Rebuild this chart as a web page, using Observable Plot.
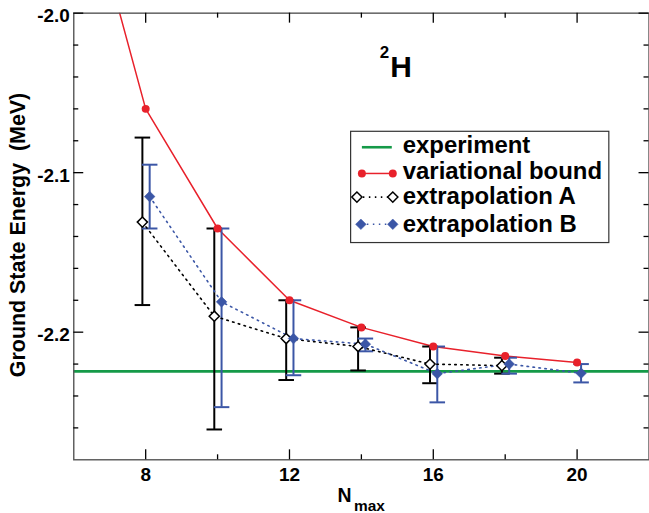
<!DOCTYPE html>
<html><head><meta charset="utf-8">
<script src="https://cdn.jsdelivr.net/npm/d3@7"></script>
<script src="https://cdn.jsdelivr.net/npm/@observablehq/plot@0.6"></script>
<style>
html,body{margin:0;padding:0;background:#fff;overflow:hidden;}
#chart{width:649px;height:513px;overflow:hidden;}
</style>
</head><body><div id="chart"></div>
<script>
// ---- data ----
const N_var = [6, 8, 10, 12, 14, 16, 18, 20];
const E_var = [-1.894, -2.060, -2.135, -2.180, -2.197, -2.209, -2.215, -2.219];

const N_A  = [8, 10, 12, 14, 16, 18];
const E_A  = [-2.131, -2.190, -2.204, -2.209, -2.220, -2.221];
const lo_A = [-2.183, -2.261, -2.230, -2.224, -2.232, -2.226];
const hi_A = [-2.078, -2.135, -2.180, -2.197, -2.209, -2.216];

const N_B  = [8, 10, 12, 14, 16, 18, 20];
const E_B  = [-2.115, -2.181, -2.204, -2.2075, -2.226, -2.220, -2.2257];
const lo_B = [-2.135, -2.247, -2.227, -2.212, -2.244, -2.226, -2.2315];
const hi_B = [-2.095, -2.135, -2.180, -2.204, -2.209, -2.216, -2.220];

const E_exp = -2.2246;

const xMajor = [8, 12, 16, 20];
const xMinor = [10, 14, 18];
const yMajor = [-2.0, -2.1, -2.2];
const yMinor = [-2.02, -2.04, -2.06, -2.08, -2.12, -2.14, -2.16, -2.18, -2.22, -2.24, -2.26];

const legendLabels = ["experiment", "variational bound", "extrapolation A", "extrapolation B"];

// ---- build tables ----
const V = N_var.map((n, i) => ({N: n, E: E_var[i]}));
const A = N_A.map((n, i) => ({N: n, E: E_A[i], lo: lo_A[i], hi: hi_A[i]}));
const B = N_B.map((n, i) => ({N: n, E: E_B[i], lo: lo_B[i], hi: hi_B[i]}));

// ---- style ----
const red = "#e8212b", blue = "#3b56a6", green = "#159a48";
const font = "Liberation Sans, Arial, Helvetica, sans-serif";
const W = 651, H = 513, mL = 73.5, mR = 0.5, mT = 12.7, mB = 52.3;
const iW = W - mL - mR, iH = H - mT - mB;
const dxA = -3.3, dxB = 4;
const dots = "1.5,4.5";
const cap = {draw(ctx, size) { const r = Math.sqrt(size / Math.PI); ctx.moveTo(-r, 0); ctx.lineTo(r, 0); }};

const tickOpts = {stroke: "black", strokeWidth: 1.3};

const chart = Plot.plot({
  width: W, height: H,
  marginLeft: mL, marginRight: mR, marginTop: mT, marginBottom: mB,
  style: {fontFamily: font, background: "white", color: "black", overflow: "visible"},
  x: {domain: [6, 22]},
  y: {domain: [-2.28, -2.0]},
  marks: [
    Plot.ruleY([E_exp], {stroke: green, strokeWidth: 2.6}),
    Plot.line(V, {x: "N", y: "E", stroke: red, strokeWidth: 1.5, clip: true}),
    // error bars A
    Plot.ruleX(A, {x: "N", y1: "lo", y2: "hi", dx: dxA, stroke: "black", strokeWidth: 2}),
    Plot.dot(A, {x: "N", y: "lo", dx: dxA, symbol: cap, r: 7.8, stroke: "black", strokeWidth: 2, fill: "none"}),
    Plot.dot(A, {x: "N", y: "hi", dx: dxA, symbol: cap, r: 7.8, stroke: "black", strokeWidth: 2, fill: "none"}),
    // error bars B
    Plot.ruleX(B, {x: "N", y1: "lo", y2: "hi", dx: dxB, stroke: blue, strokeWidth: 2}),
    Plot.dot(B, {x: "N", y: "lo", dx: dxB, symbol: cap, r: 7.8, stroke: blue, strokeWidth: 2, fill: "none"}),
    Plot.dot(B, {x: "N", y: "hi", dx: dxB, symbol: cap, r: 7.8, stroke: blue, strokeWidth: 2, fill: "none"}),
    // dotted connecting lines
    Plot.line(A, {x: "N", y: "E", dx: dxA, stroke: "black", strokeWidth: 1.6, strokeDasharray: dots}),
    Plot.line(B, {x: "N", y: "E", dx: dxB, stroke: blue, strokeWidth: 1.6, strokeDasharray: dots}),
    // markers
    Plot.dot(A, {x: "N", y: "E", dx: dxA, symbol: "diamond2", r: 4.6, fill: "white", stroke: "black", strokeWidth: 1.5}),
    Plot.dot(B, {x: "N", y: "E", dx: dxB, symbol: "diamond2", r: 4.8, fill: blue, stroke: blue, strokeWidth: 0.5}),
    Plot.dot(V, {x: "N", y: "E", r: 4, fill: red, clip: true}),
    // frame
    Plot.frame({stroke: "#555", strokeWidth: 1.4}),
    // inward ticks
    Plot.tickX(xMajor, {x: d => d, insetTop: iH - 10, ...tickOpts}),
    Plot.tickX(xMajor, {x: d => d, insetBottom: iH - 10, ...tickOpts}),
    Plot.tickX(xMinor, {x: d => d, insetTop: iH - 5, ...tickOpts}),
    Plot.tickX(xMinor, {x: d => d, insetBottom: iH - 5, ...tickOpts}),
    Plot.tickY(yMajor, {y: d => d, insetRight: iW - 10, ...tickOpts}),
    Plot.tickY(yMajor, {y: d => d, insetLeft: iW - 10, ...tickOpts}),
    Plot.tickY(yMinor, {y: d => d, insetRight: iW - 5, ...tickOpts}),
    Plot.tickY(yMinor, {y: d => d, insetLeft: iW - 5, ...tickOpts}),
    // tick labels
    Plot.axisX(xMajor, {tickSize: 0, tickPadding: 7.5, fontSize: 19, fontWeight: "bold", fontFamily: font, label: null}),
    Plot.axisY(yMajor, {tickSize: 0, tickPadding: 4, fontSize: 19, fontWeight: "bold", fontFamily: font, label: null, dy: 3, tickFormat: d => d.toFixed(1)}),
    // axis titles
    Plot.text(["Ground State Energy  (MeV)"], {frameAnchor: "left", rotate: -90, textAnchor: "middle", lineAnchor: "bottom", dx: 24.5 - mL, dy: -1.5, fontSize: 21.5, fontWeight: "bold", fontFamily: font, fill: "black"}),
    Plot.text(["N"], {frameAnchor: "bottom", textAnchor: "start", lineAnchor: "bottom", dx: -24, dy: 42.5, fontSize: 19.5, fontWeight: "bold", fontFamily: font, fill: "black"}),
    Plot.text(["max"], {frameAnchor: "bottom", textAnchor: "start", lineAnchor: "bottom", dx: -7.5, dy: 51.5, fontSize: 15.5, fontWeight: "bold", fontFamily: font, fill: "black"}),
    // nucleus label
    Plot.text(["2"], {frameAnchor: "top", textAnchor: "start", lineAnchor: "bottom", dx: 18.5, dy: 44.5, fontSize: 17, fontWeight: "bold", fontFamily: font, fill: "black"}),
    Plot.text(["H"], {frameAnchor: "top", textAnchor: "start", lineAnchor: "bottom", dx: 29, dy: 64.5, fontSize: 30, fontWeight: "bold", fontFamily: font, fill: "black"})
  ]
});

document.getElementById("chart").appendChild(chart);

// ---- legend (inside the plot area) ----
const svg = d3.select(chart);
const lg = svg.append("g").attr("font-family", font).attr("text-anchor", "start");
lg.append("rect").attr("x", 351.7).attr("y", 131.7).attr("width", 259).attr("height", 111.6)
  .attr("fill", "white").attr("stroke", "#333").attr("stroke-width", 1.2);
const rowY = [147.7, 174, 197.7, 225];
const baseY = [153.3, 180, 205, 232.3];
// experiment
lg.append("line").attr("x1", 363).attr("x2", 393).attr("y1", rowY[0]).attr("y2", rowY[0]).attr("stroke", green).attr("stroke-width", 2.6);
// variational bound
lg.append("line").attr("x1", 363).attr("x2", 394).attr("y1", rowY[1]).attr("y2", rowY[1]).attr("stroke", red).attr("stroke-width", 1.5);
[363, 394].forEach(x => lg.append("circle").attr("cx", x).attr("cy", rowY[1]).attr("r", 4).attr("fill", red));
// extrapolation A
lg.append("line").attr("x1", 358).attr("x2", 394).attr("y1", rowY[2]).attr("y2", rowY[2]).attr("stroke", "black").attr("stroke-width", 1.6).attr("stroke-dasharray", dots);
const dA = d3.symbol(d3.symbolDiamond2, 4.6 * 4.6 * Math.PI)();
[358, 394].forEach(x => lg.append("path").attr("d", dA).attr("transform", `translate(${x},${rowY[2]})`).attr("fill", "white").attr("stroke", "black").attr("stroke-width", 1.5));
// extrapolation B
lg.append("line").attr("x1", 362).attr("x2", 394).attr("y1", rowY[3]).attr("y2", rowY[3]).attr("stroke", blue).attr("stroke-width", 1.6).attr("stroke-dasharray", dots);
const dB = d3.symbol(d3.symbolDiamond2, 4.8 * 4.8 * Math.PI)();
[362, 394].forEach(x => lg.append("path").attr("d", dB).attr("transform", `translate(${x},${rowY[3]})`).attr("fill", blue).attr("stroke", blue).attr("stroke-width", 0.5));
legendLabels.forEach((t, i) => lg.append("text").attr("x", 404).attr("y", baseY[i]).attr("text-anchor", "start").attr("font-size", 24).attr("font-weight", "bold").attr("fill", "black").text(t));
</script>
</body></html>
